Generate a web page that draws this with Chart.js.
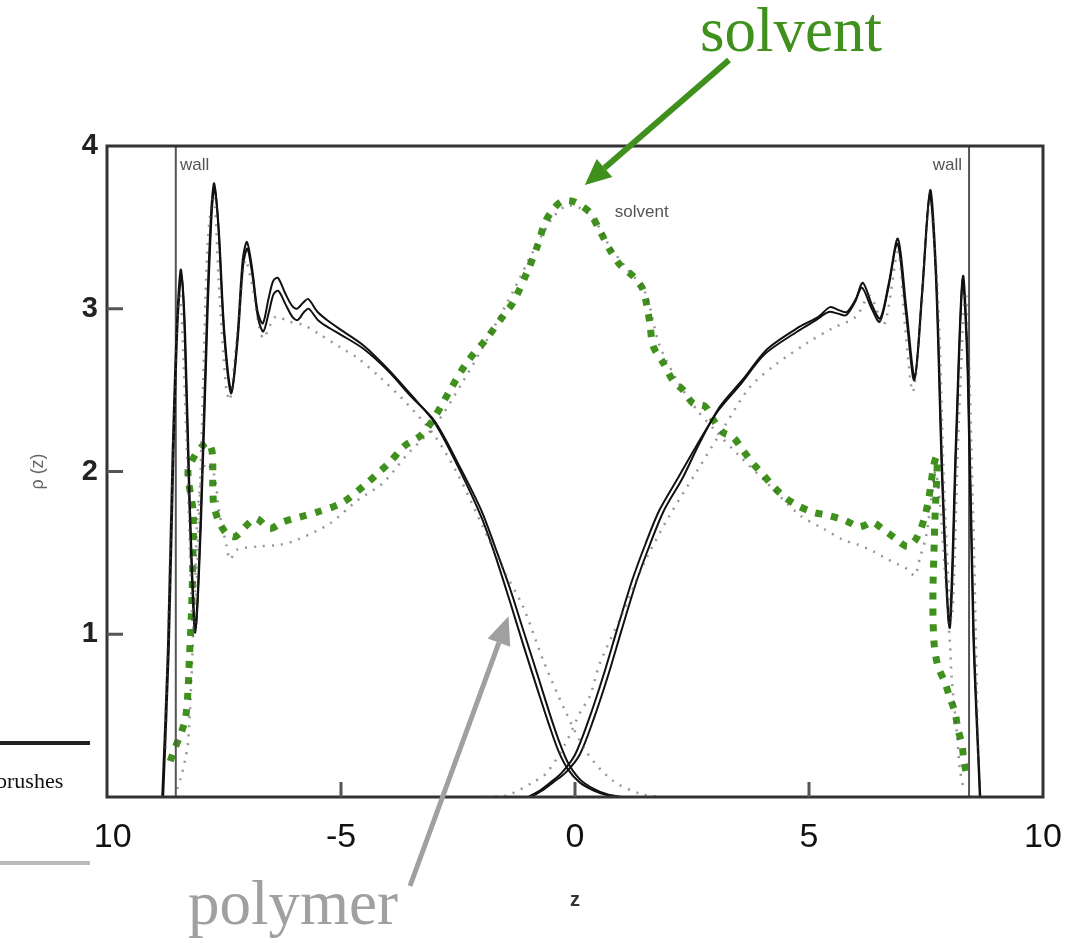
<!DOCTYPE html>
<html>
<head>
<meta charset="utf-8">
<script src="https://cdn.jsdelivr.net/npm/chart.js@4.4.1/dist/chart.umd.min.js"></script>
<style>
  html, body { margin: 0; padding: 0; background: #fff; }
</style>
</head>
<body>
<canvas id="chart" width="1070" height="943"></canvas>
<script>
// z positions and densities

// solvent (green dotted)
const solventZ = [-8.65, -8.55, -8.42, -8.32, -8.27, -8.24, -8.2, -8.17, -8.16, -8.27, -8.12, -7.95, -7.84, -7.76, -7.74, -7.74, -7.72, -7.62, -7.45, -7.26,
  -7.05, -6.9, -6.79, -6.52, -6.24, -5.88, -5.51, -4.96, -4.44, -4.17, -3.95, -3.63, -3.3, -3.03, -2.67, -2.31, -1.88, -1.5, -1.32, -1.03,
  -0.81, -0.64, -0.47, -0.28, -0.05, 0.15, 0.32, 0.53, 0.75, 0.96, 1.24, 1.45, 1.54, 1.6, 1.67, 1.88, 2.09, 2.31, 2.52, 2.78,
  2.95, 3.16, 3.38, 3.59, 3.8, 4.02, 4.23, 4.49, 4.76, 5.09, 5.41, 5.77, 6.05, 6.2, 6.35, 6.56, 6.84, 7.09, 7.25, 7.38,
  7.47, 7.55, 7.61, 7.66, 7.72, 7.74, 7.72, 7.69, 7.67, 7.65, 7.65, 7.68, 7.76, 7.91, 8.01, 8.12, 8.18, 8.27, 8.31, 8.38];
const solventRho = [0.22, 0.30, 0.39, 0.49, 0.65, 0.85, 1.1, 1.4, 1.75, 2.0, 2.1, 2.16, 2.18, 2.13, 2.05, 1.92, 1.8, 1.7, 1.62, 1.6,
  1.66, 1.7, 1.71, 1.65, 1.69, 1.72, 1.75, 1.81, 1.93, 2.0, 2.06, 2.16, 2.22, 2.32, 2.5, 2.67, 2.82, 2.97, 3.04, 3.22,
  3.38, 3.53, 3.61, 3.66, 3.66, 3.63, 3.59, 3.48, 3.36, 3.27, 3.2, 3.12, 3.01, 2.91, 2.77, 2.67, 2.56, 2.5, 2.42, 2.4,
  2.32, 2.24, 2.21, 2.13, 2.05, 1.98, 1.91, 1.84, 1.79, 1.75, 1.73, 1.70, 1.66, 1.67, 1.69, 1.65, 1.59, 1.54, 1.57, 1.64,
  1.72, 1.82, 1.93, 2.03, 2.09, 2.05, 1.9, 1.7, 1.5, 1.3, 1.1, 0.92, 0.8, 0.7, 0.61, 0.52, 0.42, 0.32, 0.22, 0.12];

// polymer brush grafted on the left wall (two runs, black)
const leftAZ = [-8.82, -8.7, -8.6, -8.5, -8.42, -8.34, -8.24, -8.12, -8.0, -7.86, -7.77, -7.71, -7.62, -7.5, -7.35, -7.22, -7.1, -7.01, -6.9, -6.78,
  -6.67, -6.55, -6.45, -6.35, -6.2, -6.05, -5.94, -5.8, -5.7, -5.5, -5.25, -5.0, -4.5, -4.0, -3.5, -3.0, -2.5, -2.0, -1.7, -1.4,
  -1.1, -0.8, -0.55, -0.35, -0.15, 0.1, 0.4, 0.7, 0.95];
const leftARho = [0, 0.9, 2.1, 2.95, 3.24, 2.85, 1.8, 1.01, 1.7, 3.0, 3.62, 3.77, 3.5, 2.85, 2.48, 2.8, 3.3, 3.41, 3.25, 2.98,
  2.91, 3.06, 3.17, 3.19, 3.1, 3.02, 3.0, 3.04, 3.06, 2.98, 2.92, 2.87, 2.77, 2.63, 2.47, 2.30, 2.03, 1.72, 1.48, 1.21,
  0.93, 0.66, 0.44, 0.28, 0.17, 0.09, 0.04, 0.01, 0];
const leftBZ = [-8.8, -8.68, -8.58, -8.49, -8.41, -8.33, -8.23, -8.11, -7.99, -7.85, -7.76, -7.70, -7.61, -7.49, -7.34, -7.21, -7.09, -7.0, -6.89, -6.77,
  -6.66, -6.54, -6.44, -6.34, -6.19, -6.04, -5.93, -5.79, -5.69, -5.49, -5.24, -5.0, -4.5, -4.0, -3.5, -3.0, -2.5, -2.0, -1.7, -1.4,
  -1.1, -0.8, -0.55, -0.35, -0.15, 0.1, 0.4, 0.7, 1.0];
const leftBRho = [0, 0.9, 2.1, 2.92, 3.2, 2.85, 1.8, 1.04, 1.7, 2.98, 3.6, 3.74, 3.48, 2.85, 2.5, 2.8, 3.27, 3.37, 3.2, 2.94,
  2.86, 2.98, 3.09, 3.11, 3.03, 2.95, 2.93, 2.98, 3.0, 2.93, 2.88, 2.84, 2.75, 2.62, 2.46, 2.31, 2.05, 1.76, 1.53, 1.29,
  1.02, 0.75, 0.52, 0.35, 0.21, 0.11, 0.05, 0.015, 0];

// polymer brush grafted on the right wall
const rightAZ = [-0.95, -0.7, -0.47, -0.2, 0.1, 0.4, 0.7, 1.0, 1.32, 1.6, 1.9, 2.3, 2.67, 3.1, 3.6, 4.1, 4.8, 5.2, 5.45, 5.65,
  5.81, 6.0, 6.15, 6.35, 6.52, 6.7, 6.9, 7.08, 7.26, 7.42, 7.59, 7.72, 7.86, 8.01, 8.15, 8.29, 8.4, 8.52, 8.66];
const rightARho = [0, 0.04, 0.09, 0.15, 0.26, 0.48, 0.74, 1.03, 1.33, 1.55, 1.76, 1.96, 2.18, 2.40, 2.57, 2.75, 2.89, 2.95, 3.01, 2.99,
  2.98, 3.06, 3.16, 3.02, 2.94, 3.15, 3.43, 3.0, 2.58, 3.1, 3.73, 3.2, 1.9, 1.04, 2.2, 3.2, 2.6, 1.0, 0];
const rightBZ = [-1.0, -0.75, -0.52, -0.28, 0.0, 0.3, 0.6, 0.9, 1.22, 1.5, 1.8, 2.2, 2.6, 3.05, 3.55, 4.05, 4.75, 5.15, 5.42, 5.62,
  5.79, 5.98, 6.13, 6.34, 6.51, 6.69, 6.89, 7.07, 7.25, 7.41, 7.58, 7.71, 7.85, 8.0, 8.14, 8.28, 8.39, 8.51, 8.65];
const rightBRho = [0, 0.04, 0.09, 0.15, 0.26, 0.48, 0.74, 1.03, 1.33, 1.55, 1.76, 1.96, 2.16, 2.37, 2.54, 2.72, 2.86, 2.93, 2.98, 2.97,
  2.96, 3.04, 3.13, 3.0, 2.92, 3.12, 3.4, 2.98, 2.56, 3.08, 3.7, 3.2, 1.9, 1.06, 2.2, 3.18, 2.6, 1.0, 0];

// grey dotted reference profiles
const grayLeftZ = [-8.75, -8.6, -8.45, -8.3, -8.15, -8.0, -7.85, -7.72, -7.6, -7.45, -7.37, -7.2, -7.05, -6.9, -6.67, -6.4, -6.1, -5.8, -5.5, -5.0,
  -4.66, -4.17, -3.6, -3.0, -2.5, -2.0, -1.5, -1.11, -0.68, -0.21, 0.26, 0.81, 1.39, 1.8];
const grayLeftRho = [0.3, 2.0, 3.1, 2.2, 1.0, 2.0, 3.4, 3.7, 3.1, 2.5, 2.44, 2.9, 3.3, 3.15, 2.82, 2.95, 2.92, 2.9, 2.85, 2.76,
  2.70, 2.58, 2.42, 2.22, 1.98, 1.68, 1.38, 1.17, 0.84, 0.53, 0.27, 0.10, 0.02, 0];
const grayRightZ = [-1.9, -1.45, -0.9, -0.6, -0.2, 0.11, 0.32, 0.53, 1.0, 1.5, 2.0, 2.6, 3.2, 3.74, 4.3, 4.96, 5.5, 6.0, 6.3, 6.6,
  6.9, 7.05, 7.22, 7.4, 7.58, 7.75, 7.9, 8.05, 8.2, 8.35, 8.5, 8.62];
const grayRightRho = [0, 0.01, 0.09, 0.15, 0.33, 0.52, 0.62, 0.82, 1.12, 1.45, 1.72, 2.0, 2.28, 2.52, 2.66, 2.79, 2.88, 2.95, 3.08, 2.9,
  3.35, 2.9, 2.49, 3.0, 3.65, 3.1, 1.8, 1.1, 2.3, 3.1, 1.8, 0.2];
const graySolventZ = [-8.5, -8.42, -8.33, -8.27, -8.2, -8.12, -8.05, -7.9, -7.72, -7.6, -7.45, -7.37, -7.22, -6.73, -6.3, -5.94, -5.24, -4.66, -4.1, -3.6,
  -3.0, -2.4, -1.8, -1.3, -0.9, -0.5, -0.2, 0.1, 0.4, 0.75, 1.1, 1.5, 1.8, 2.2, 2.6, 3.0, 3.5, 4.1, 4.81, 5.3,
  5.73, 6.05, 6.37, 6.62, 6.9, 7.1, 7.26, 7.37, 7.5, 7.6, 7.7, 7.8, 7.9, 8.01, 8.05, 8.16, 8.22, 8.3];
const graySolventRho = [0.05, 0.12, 0.23, 0.33, 0.7, 1.3, 1.8, 2.05, 1.99, 1.75, 1.55, 1.46, 1.52, 1.54, 1.55, 1.58, 1.68, 1.82, 1.93, 2.1,
  2.28, 2.55, 2.85, 3.12, 3.35, 3.55, 3.63, 3.62, 3.55, 3.38, 3.25, 3.1, 2.78, 2.55, 2.38, 2.25, 2.1, 1.93, 1.73, 1.65,
  1.58, 1.55, 1.51, 1.47, 1.43, 1.4, 1.36, 1.47, 1.6, 1.8, 2.0, 1.8, 1.4, 0.95, 0.73, 0.39, 0.18, 0.05];

const wallZ = [-8.53, 8.42];
const xTicks = [-10, -5, 0, 5, 10];
const yTicks = [0, 1, 2, 3, 4];

function pts(zs, rs) {
  return zs.map((z, i) => ({ x: z, y: rs[i] }));
}

const green = "#3f901d";

const grayStyle = {
  borderColor: "rgba(80,80,80,0.6)",
  borderWidth: 2.5,
  borderDash: [2, 7],
  pointRadius: 0,
  tension: 0.3,
  fill: false,
};
const blackStyle = {
  borderColor: "#111",
  borderWidth: 2,
  pointRadius: 0,
  tension: 0.3,
  fill: false,
};

const datasets = [
  Object.assign({ data: pts(graySolventZ, graySolventRho) }, grayStyle),
  Object.assign({ data: pts(grayLeftZ, grayLeftRho) }, grayStyle),
  Object.assign({ data: pts(grayRightZ, grayRightRho) }, grayStyle),
  Object.assign({ data: pts(leftAZ, leftARho) }, blackStyle),
  Object.assign({ data: pts(leftBZ, leftBRho) }, blackStyle),
  Object.assign({ data: pts(rightAZ, rightARho) }, blackStyle),
  Object.assign({ data: pts(rightBZ, rightBRho) }, blackStyle),
  { data: [{ x: wallZ[0], y: 0 }, { x: wallZ[0], y: 4 }], borderColor: "#555", borderWidth: 2, pointRadius: 0 },
  { data: [{ x: wallZ[1], y: 0 }, { x: wallZ[1], y: 4 }], borderColor: "#555", borderWidth: 2, pointRadius: 0 },
  {
    data: pts(solventZ, solventRho),
    borderColor: green,
    borderWidth: 7,
    borderDash: [7, 9],
    borderCapStyle: "butt",
    pointRadius: 0,
    tension: 0.3,
    fill: false,
  },
];

function arrow(ctx, x1, y1, x2, y2, color, width, head, half) {
  const a = Math.atan2(y2 - y1, x2 - x1);
  const bx = x2 - head * Math.cos(a);
  const by = y2 - head * Math.sin(a);
  ctx.save();
  ctx.strokeStyle = color;
  ctx.fillStyle = color;
  ctx.lineWidth = width;
  ctx.beginPath();
  ctx.moveTo(x1, y1);
  ctx.lineTo(bx, by);
  ctx.stroke();
  ctx.beginPath();
  ctx.moveTo(x2, y2);
  ctx.lineTo(bx + half * Math.sin(a), by - half * Math.cos(a));
  ctx.lineTo(bx - half * Math.sin(a), by + half * Math.cos(a));
  ctx.closePath();
  ctx.fill();
  ctx.restore();
}

// frame, inward ticks and small in-plot labels
const frame = {
  id: "frame",
  afterDatasetsDraw(chart) {
    const { ctx, chartArea: ca, scales } = chart;
    const xs = scales.x, ys = scales.y;
    ctx.save();
    ctx.strokeStyle = "#333";
    ctx.lineWidth = 3;
    ctx.strokeRect(ca.left, ca.top, ca.right - ca.left, ca.bottom - ca.top);
    ctx.strokeStyle = "#555";
    ctx.beginPath();
    [1, 2, 3].forEach(v => {
      const py = ys.getPixelForValue(v);
      ctx.moveTo(ca.left, py);
      ctx.lineTo(ca.left + 16, py);
    });
    [-5, 0, 5].forEach(v => {
      const px = xs.getPixelForValue(v);
      ctx.moveTo(px, ca.bottom);
      ctx.lineTo(px, ca.bottom - 15);
    });
    ctx.stroke();

    ctx.fillStyle = "#555";
    ctx.font = "17px 'Liberation Sans', Arial, sans-serif";
    ctx.textBaseline = "middle";
    ctx.textAlign = "left";
    ctx.fillText("wall", xs.getPixelForValue(-8.44), ys.getPixelForValue(3.88));
    ctx.textAlign = "right";
    ctx.fillText("wall", xs.getPixelForValue(8.27), ys.getPixelForValue(3.88));
    ctx.textAlign = "left";
    ctx.fillText("solvent", xs.getPixelForValue(0.85), ys.getPixelForValue(3.59));
    ctx.restore();
  },
  afterDraw(chart) {
    const { ctx, scales } = chart;
    const xs = scales.x, ys = scales.y;
    ctx.save();
    // cropped piece of a neighbouring legend
    ctx.fillStyle = "#fff";
    ctx.fillRect(0, 737, 94, 134);
    ctx.fillStyle = "#222";
    ctx.fillRect(0, 741, 90, 4);
    ctx.fillStyle = "#bbb";
    ctx.fillRect(0, 861, 90, 4);
    ctx.fillStyle = "#111";
    ctx.font = "22px 'Liberation Serif', 'Times New Roman', serif";
    ctx.textAlign = "left";
    ctx.textBaseline = "alphabetic";
    ctx.fillText("brushes", -4, 788);

    // annotations
    ctx.font = "63px 'Liberation Serif', 'Times New Roman', serif";
    ctx.fillStyle = green;
    ctx.fillText("solvent", 700, 51);
    arrow(ctx, 729, 60, xs.getPixelForValue(0.21), ys.getPixelForValue(3.76), green, 6, 26, 12);
    ctx.fillStyle = "#a0a0a0";
    ctx.fillText("polymer", 188, 924);
    arrow(ctx, 410, 886, xs.getPixelForValue(-1.42), ys.getPixelForValue(1.11), "#a0a0a0", 5, 28, 12);
    ctx.restore();
  },
};

new Chart(document.getElementById("chart"), {
  type: "line",
  data: { datasets: datasets },
  options: {
    responsive: false,
    animation: false,
    layout: { padding: { left: 0, top: 146, right: 27, bottom: 0 } },
    plugins: { legend: { display: false }, tooltip: { enabled: false } },
    scales: {
      x: {
        type: "linear",
        min: -10,
        max: 10,
        afterFit: s => { s.height = 146; s.paddingLeft = 0; s.paddingRight = 0; },
        afterBuildTicks: s => { s.ticks = xTicks.map(v => ({ value: v })); },
        grid: { display: false, drawTicks: false },
        border: { display: false },
        ticks: {
          padding: 20,
          color: "#111",
          font: { family: "'Liberation Sans', Arial, sans-serif", size: 34 },
          maxRotation: 0,
        },
        title: {
          display: true,
          text: "z",
          color: "#333",
          font: { family: "'Liberation Sans', Arial, sans-serif", size: 20, weight: "bold" },
          padding: { top: 0, bottom: 31 },
        },
      },
      y: {
        type: "linear",
        min: 0,
        max: 4,
        afterFit: s => { s.width = 107; },
        afterBuildTicks: s => { s.ticks = yTicks.map(v => ({ value: v })); },
        grid: { display: false, drawTicks: false },
        border: { display: false },
        ticks: {
          padding: 9,
          color: "#222",
          font: { family: "'Liberation Sans', Arial, sans-serif", size: 29, weight: "bold" },
          callback: v => (v === 0 ? "" : v),
        },
        title: {
          display: true,
          text: "ρ (z)",
          color: "#666",
          font: { family: "'Liberation Sans', Arial, sans-serif", size: 18 },
          padding: { top: 27, bottom: 0 },
        },
      },
    },
  },
  plugins: [frame],
});
</script>
</body>
</html>
